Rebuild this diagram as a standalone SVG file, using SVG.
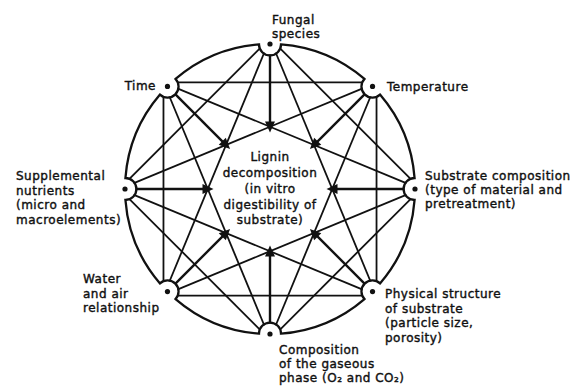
<svg xmlns="http://www.w3.org/2000/svg" width="579" height="388" viewBox="0 0 579 388">
<style>
text{font-family:"DejaVu Sans","Liberation Sans",sans-serif;font-size:12px;letter-spacing:0.5px;fill:#111;stroke:#111;stroke-width:0.4}
.ch{stroke:#111;stroke-width:1.8;fill:none}
.rd{stroke:#111;stroke-width:2.4;fill:none;marker-end:url(#ah)}
.ring{stroke:#111;stroke-width:2.3;fill:none}
.dot{fill:#111}
</style>
<defs>
<marker id="ah" markerUnits="userSpaceOnUse" viewBox="-10 -6 14 12" refX="0" refY="0" markerWidth="14" markerHeight="12" orient="auto">
<path d="M3.5,0 L-7.5,-5 L-7.5,5 Z" fill="#111"/>
</marker>
<mask id="m" maskUnits="userSpaceOnUse" x="0" y="0" width="579" height="388">
<rect x="0" y="0" width="579" height="388" fill="#fff"/>
<circle cx="415" cy="189" r="10.5" fill="#000"/>
<circle cx="372.53" cy="291.53" r="10.5" fill="#000"/>
<circle cx="270" cy="334" r="10.5" fill="#000"/>
<circle cx="167.47" cy="291.53" r="10.5" fill="#000"/>
<circle cx="125" cy="189" r="10.5" fill="#000"/>
<circle cx="167.47" cy="86.47" r="10.5" fill="#000"/>
<circle cx="270" cy="44" r="10.5" fill="#000"/>
<circle cx="372.53" cy="86.47" r="10.5" fill="#000"/>
</mask>
</defs>
<rect x="0" y="0" width="579" height="388" fill="#fff"/>
<g id="connectors" mask="url(#m)">
<line class="ch" x1="167.47" y1="82.47" x2="372.53" y2="82.47"/>
<line class="ch" x1="376.53" y1="86.47" x2="376.53" y2="291.53"/>
<line class="ch" x1="167.47" y1="295.53" x2="372.53" y2="295.53"/>
<line class="ch" x1="163.47" y1="86.47" x2="163.47" y2="291.53"/>
<line class="ch" x1="272.83" y1="41.17" x2="417.83" y2="186.17"/>
<line class="ch" x1="417.83" y1="191.83" x2="272.83" y2="336.83"/>
<line class="ch" x1="267.17" y1="336.83" x2="122.17" y2="191.83"/>
<line class="ch" x1="122.17" y1="186.17" x2="267.17" y2="41.17"/>
<line class="ch" x1="415.77" y1="190.85" x2="168.24" y2="293.38"/>
<line class="ch" x1="371.77" y1="293.38" x2="124.23" y2="190.85"/>
<line class="ch" x1="268.15" y1="334.77" x2="165.62" y2="87.24"/>
<line class="ch" x1="165.62" y1="290.77" x2="268.15" y2="43.23"/>
<line class="ch" x1="124.23" y1="187.15" x2="371.77" y2="84.62"/>
<line class="ch" x1="168.24" y1="84.62" x2="415.77" y2="187.15"/>
<line class="ch" x1="271.85" y1="43.23" x2="374.38" y2="290.77"/>
<line class="ch" x1="374.38" y1="87.24" x2="271.85" y2="334.77"/>
<line class="rd" x1="415" y1="189" x2="330" y2="189"/>
<line class="rd" x1="372.53" y1="291.53" x2="312.43" y2="231.43"/>
<line class="rd" x1="270" y1="334" x2="270" y2="249"/>
<line class="rd" x1="167.47" y1="291.53" x2="227.57" y2="231.43"/>
<line class="rd" x1="125" y1="189" x2="210" y2="189"/>
<line class="rd" x1="167.47" y1="86.47" x2="227.57" y2="146.57"/>
<line class="rd" x1="270" y1="44" x2="270" y2="129"/>
<line class="rd" x1="372.53" y1="86.47" x2="312.43" y2="146.57"/>
</g>
<g id="ring">
<path class="ring" d="M414.58 200 A145 145 0 0 1 380.01 283.46 A11 11 0 0 0 364.46 299.01 A145 145 0 0 1 281 333.58 A11 11 0 0 0 259 333.58 A145 145 0 0 1 175.54 299.01 A11 11 0 0 0 159.99 283.46 A145 145 0 0 1 125.42 200 A11 11 0 0 0 125.42 178 A145 145 0 0 1 159.99 94.54 A11 11 0 0 0 175.54 78.99 A145 145 0 0 1 259 44.42 A11 11 0 0 0 281 44.42 A145 145 0 0 1 364.46 78.99 A11 11 0 0 0 380.01 94.54 A145 145 0 0 1 414.58 178 A11 11 0 0 0 414.58 200 Z"/>
</g>
<g id="center">
<text text-anchor="middle" x="270" y="161">Lignin</text>
<text text-anchor="middle" x="270" y="177">decomposition</text>
<text text-anchor="middle" x="270" y="193">(in vitro</text>
<text text-anchor="middle" x="270" y="208.5">digestibility of</text>
<text text-anchor="middle" x="270" y="224">substrate)</text>
</g>
<g id="fungal">
<circle class="dot" cx="270" cy="44" r="2.6"/>
<text x="272" y="23.5">Fungal</text>
<text x="272" y="37.5">species</text>
</g>
<g id="temperature">
<circle class="dot" cx="372.53" cy="86.47" r="2.6"/>
<text x="387" y="91">Temperature</text>
</g>
<g id="substrate">
<circle class="dot" cx="415" cy="189" r="2.6"/>
<text x="425" y="180">Substrate composition</text>
<text x="425" y="194">(type of material and</text>
<text x="425" y="208">pretreatment)</text>
</g>
<g id="physical">
<circle class="dot" cx="372.53" cy="291.53" r="2.6"/>
<text x="385" y="298">Physical structure</text>
<text x="385" y="312.5">of substrate</text>
<text x="385" y="327">(particle size,</text>
<text x="385" y="341.5">porosity)</text>
</g>
<g id="gaseous">
<circle class="dot" cx="270" cy="334" r="2.6"/>
<text x="279" y="354">Composition</text>
<text x="279" y="368">of the gaseous</text>
<text x="279" y="382">phase (O₂ and CO₂)</text>
</g>
<g id="water">
<circle class="dot" cx="167.47" cy="291.53" r="2.6"/>
<text x="83" y="283">Water</text>
<text x="83" y="297.5">and air</text>
<text x="83" y="312">relationship</text>
</g>
<g id="supplemental">
<circle class="dot" cx="125" cy="189" r="2.6"/>
<text x="16" y="180">Supplemental</text>
<text x="16" y="194.5">nutrients</text>
<text x="16" y="209">(micro and</text>
<text x="16" y="223.5">macroelements)</text>
</g>
<g id="time">
<circle class="dot" cx="167.47" cy="86.47" r="2.6"/>
<text text-anchor="end" x="156" y="90">Time</text>
</g>
</svg>
